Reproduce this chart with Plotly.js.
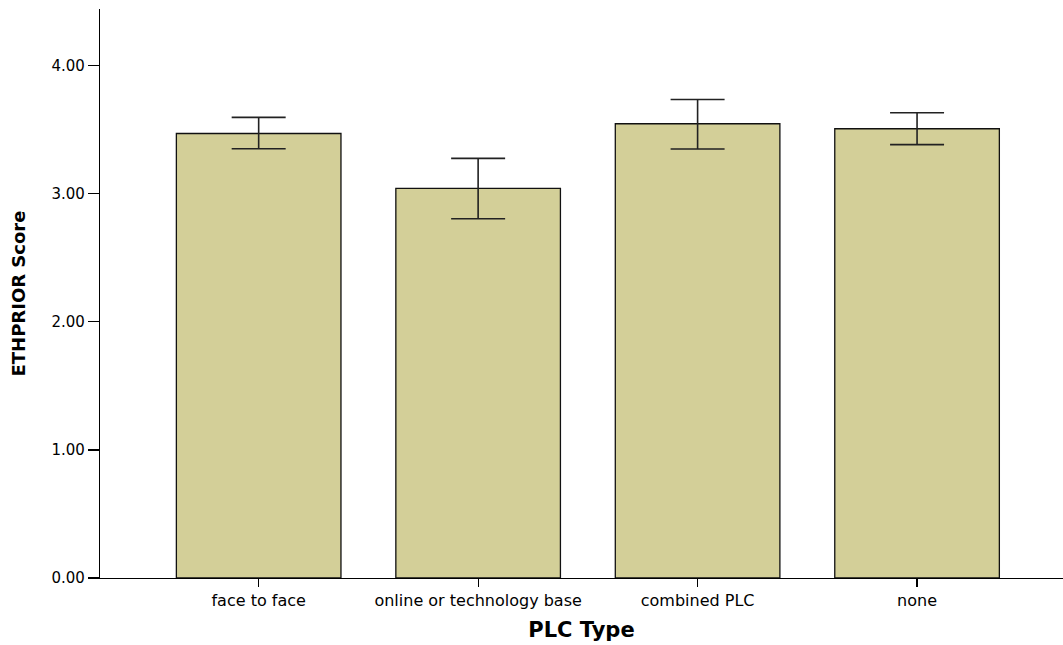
<!DOCTYPE html>
<html>
<head>
<meta charset="utf-8">
<script src="https://cdn.plot.ly/plotly-3.0.1.min.js"></script>
<style>
  html, body { margin: 0; padding: 0; background: #fff; }
  #chart { width: 1063px; height: 645px; }
</style>
</head>
<body>
<div id="chart"></div>
<script>
const categories = ["face to face", "online or technology base", "combined PLC", "none"];
const meanScores = [3.470, 3.041, 3.546, 3.507];
const ciUpper = [3.596, 3.276, 3.736, 3.632];
const ciLower = [3.351, 2.805, 3.349, 3.383];
const yTickValues = [0, 1, 2, 3, 4];
const yTickLabels = ["0.00", "1.00", "2.00", "3.00", "4.00"];

const plus = ciUpper.map((u, i) => u - meanScores[i]);
const minus = meanScores.map((m, i) => m - ciLower[i]);

const trace = {
  type: "bar",
  x: categories,
  y: meanScores,
  width: 0.75,
  marker: { color: "#d3cf98", line: { color: "#111", width: 1.3 } },
  error_y: {
    type: "data",
    symmetric: false,
    array: plus,
    arrayminus: minus,
    color: "#222",
    thickness: 1.6,
    width: 27
  },
  hoverinfo: "x+y"
};

const layout = {
  width: 1063,
  height: 645,
  margin: { l: 100, r: 0, t: 9, b: 67 },
  paper_bgcolor: "#fff",
  plot_bgcolor: "#fff",
  showlegend: false,
  font: { family: "DejaVu Sans, sans-serif", color: "#000" },
  xaxis: {
    type: "category",
    range: [-0.723, 3.665],
    showgrid: false,
    zeroline: false,
    showline: true,
    linecolor: "#000",
    linewidth: 1.2,
    ticks: "outside",
    ticklen: 8,
    tickcolor: "#000",
    tickwidth: 1.2,
    tickfont: { family: "DejaVu Sans, sans-serif", size: 16, color: "#000" },
    title: {
      text: "PLC Type",
      font: { family: "DejaVu Sans, sans-serif", size: 21, weight: "bold", color: "#000" },
      standoff: 12
    },
    automargin: false
  },
  yaxis: {
    range: [0, 4.442],
    tickvals: yTickValues,
    ticktext: yTickLabels,
    showgrid: false,
    zeroline: false,
    showline: true,
    linecolor: "#000",
    linewidth: 1.2,
    ticks: "outside",
    ticklen: 11,
    tickcolor: "#000",
    tickwidth: 1.2,
    tickfont: { family: "DejaVu Sans, sans-serif", size: 15, color: "#000" },
    automargin: false
  },
  annotations: [{
    text: "ETHPRIOR Score",
    xref: "paper",
    yref: "paper",
    x: -82 / 963,
    y: 0.5,
    xanchor: "center",
    yanchor: "middle",
    textangle: -90,
    showarrow: false,
    font: { family: "DejaVu Sans, sans-serif", size: 18, weight: "bold", color: "#000" }
  }]
};

Plotly.newPlot("chart", [trace], layout, { displayModeBar: false, staticPlot: true });
</script>
</body>
</html>
